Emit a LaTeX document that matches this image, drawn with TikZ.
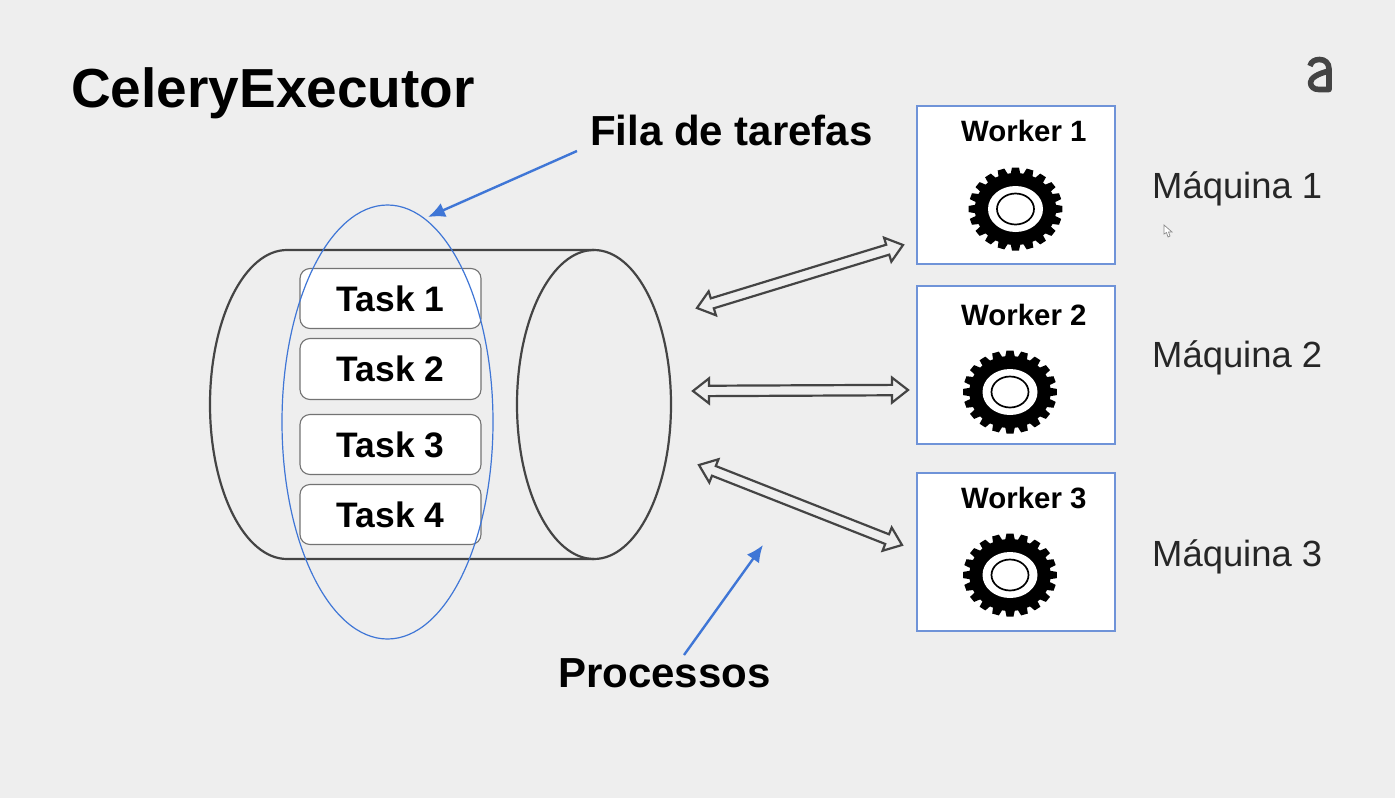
\documentclass[tikz,border=0pt]{standalone}
\usepackage{fontspec}
\setmainfont{Liberation Sans}
\usetikzlibrary{calc,shapes.geometric,arrows.meta}
\definecolor{bgc}{HTML}{EEEEEE}
\definecolor{inkc}{HTML}{444444}
\definecolor{bluec}{HTML}{3F76D6}
\definecolor{boxblue}{HTML}{6F93D8}
\tikzset{
  x=1pt,y=-1pt,
  label text/.style={inner sep=0pt,anchor=base west,text=black},
  title text/.style={label text,font=\fontsize{55}{60}\selectfont\bfseries},
  callout text/.style={label text,font=\fontsize{42}{48}\selectfont\bfseries},
  worker text/.style={label text,font=\fontsize{29.4}{34}\selectfont\bfseries},
  machine text/.style={label text,text=black!85,font=\fontsize{36.4}{42}\selectfont},
  task box/.style={draw=black!55,line width=1.1pt,fill=white,rounded corners=10pt,inner sep=0pt,
    minimum width=181pt,minimum height=60pt,font=\fontsize{35.4}{40}\selectfont\bfseries},
  worker box/.style={draw=boxblue,line width=1.7pt,fill=white,inner sep=0pt,
    minimum width=198pt,minimum height=158pt},
  cyl line/.style={draw=inkc,line width=2.2pt},
  blue arrow/.style={draw=bluec,line width=2.4pt,-{Latex[length=17pt,width=15pt]}},
  dbl arrow/.style={draw=inkc,line width=2.2pt,line join=miter},
  gearpic/.pic={
    \begin{scope}[xscale=1.13]
      \fill[black] (0,0) circle[radius=36pt];
      \foreach \a in {0,18,...,359} {
        \fill[black,rotate=\a] (-4.4,-34.5) -- (-3.1,-41.5) -- (3.1,-41.5) -- (4.4,-34.5) -- cycle;
      }
    \end{scope}
    \fill[white] (0,0) ellipse[x radius=27.5pt,y radius=23pt];
    \draw[black,line width=1.7pt,fill=white] (0,0) ellipse[x radius=18.5pt,y radius=15.5pt];
  }
}
\newcommand{\dblarrow}[2]{%
  \coordinate (p) at ($(#1)!16pt!(#2)$);
  \coordinate (q) at ($(#2)!16pt!(#1)$);
  \draw[dbl arrow] (#1)
    -- ($(p)!12.5pt!90:(#2)$) -- ($(p)!5.2pt!90:(#2)$)
    -- ($(q)!5.2pt!-90:(#1)$) -- ($(q)!12.5pt!-90:(#1)$)
    -- (#2)
    -- ($(q)!12.5pt!90:(#1)$) -- ($(q)!5.2pt!90:(#1)$)
    -- ($(p)!5.2pt!-90:(#2)$) -- ($(p)!12.5pt!-90:(#2)$)
    -- cycle;
}
\begin{document}
\begin{tikzpicture}
\useasboundingbox (0,0) rectangle (1395,798);
\fill[bgc] (0,0) rectangle (1395,798);

% title
\node[title text] (title) at (71,107) {CeleryExecutor};

% logo
\draw[draw=inkc,line width=5.6pt,line join=round]
  (1310,66) .. controls (1311,61.5) and (1315,59.5) .. (1319.5,59.5)
  .. controls (1325,59.5) and (1329,63) .. (1329,69) -- (1329,89.5) -- (1319,89.5)
  .. controls (1313.5,89.5) and (1310.5,86.5) .. (1310.5,82.5)
  .. controls (1310.5,78) and (1318,73.5) .. (1329,71);

% cursor
\draw[draw=black!45,fill=white,line width=0.7pt]
  (1164,225) -- (1164,234) -- (1166.5,232.5) -- (1168,237) -- (1170,236) -- (1168.5,232) -- (1172,232) -- cycle;

% queue cylinder
\draw[cyl line] (594,250) -- (287,250) arc[start angle=90,end angle=270,x radius=77pt,y radius=154.5pt] -- (594,559);
\node[ellipse,cyl line,inner sep=0pt,minimum width=154pt,minimum height=309pt] (cylend) at (594,404.5) {};

% tasks
\node[task box] (t1) at (390.5,298.5) {Task 1};
\node[task box,minimum height=61pt] (t2) at (390.5,369) {Task 2};
\node[task box] (t3) at (390.5,444.5) {Task 3};
\node[task box] (t4) at (390.5,514.5) {Task 4};

% queue ellipse
\node[ellipse,draw=bluec,line width=1.2pt,inner sep=0pt,minimum width=211pt,minimum height=434pt] (queue) at (387.5,422) {};

% workers
\node[worker box] (w1) at (1016,185) {};
\node[worker box] (w2) at (1016,365) {};
\node[worker box] (w3) at (1016,552) {};
\node[worker text] (wl1) at (961,141) {Worker 1};
\node[worker text] (wl2) at (961,325) {Worker 2};
\node[worker text] (wl3) at (961,508) {Worker 3};
\pic at (1015.5,209) {gearpic};
\pic at (1010,392) {gearpic};
\pic at (1010,575) {gearpic};

% machines
\node[machine text] (m1) at (1152,198) {Máquina 1};
\node[machine text] (m2) at (1152,367) {Máquina 2};
\node[machine text] (m3) at (1152,566) {Máquina 3};

% double arrows
\coordinate (a1l) at (697,308); \coordinate (a1r) at (903,245);
\coordinate (a2l) at (693,391); \coordinate (a2r) at (908,390);
\coordinate (a3l) at (699,465); \coordinate (a3r) at (902,545);
\dblarrow{a1l}{a1r}
\dblarrow{a2l}{a2r}
\dblarrow{a3l}{a3r}

% callouts
\node[callout text] (fila) at (590,145) {Fila de tarefas};
\node[callout text] (proc) at (558,687) {Processos};
\coordinate (fs) at (577,151); \coordinate (fe) at (428,217);
\coordinate (ps) at (684,655); \coordinate (pe) at (763,545);
\draw[blue arrow] (fs) -- (fe);
\draw[blue arrow] (ps) -- (pe);
\end{tikzpicture}
\end{document}
